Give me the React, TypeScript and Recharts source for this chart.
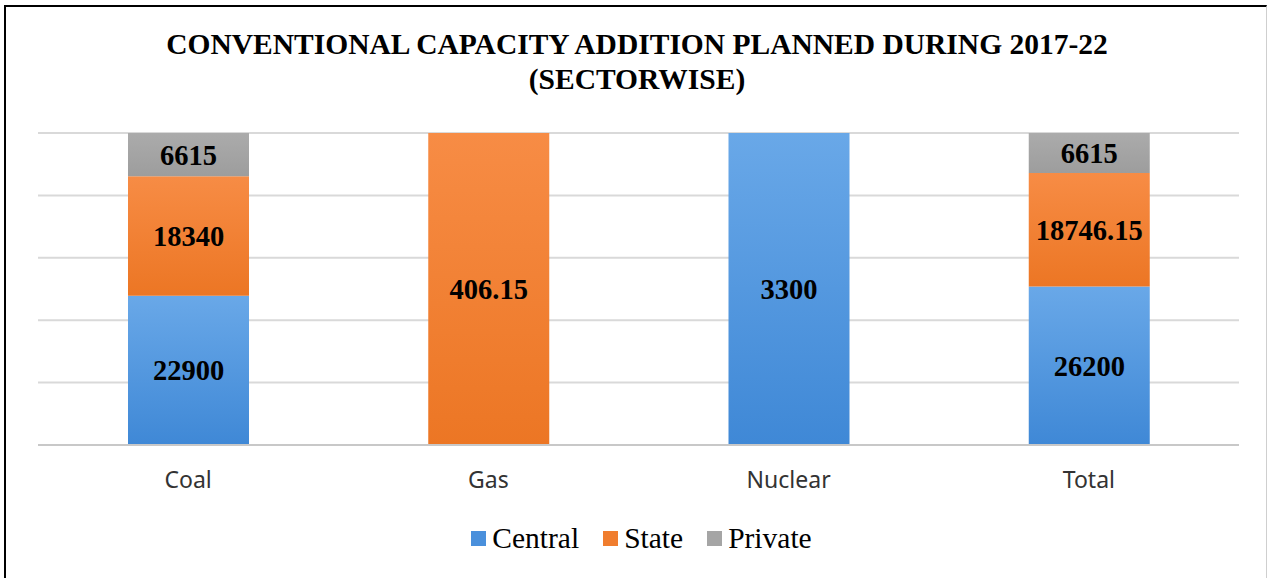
import { BarChart, Bar, XAxis, YAxis, CartesianGrid, Legend, LabelList } from 'recharts';

// Conventional capacity addition planned during 2017-22, sector-wise (MW).
const categories = ['Coal', 'Gas', 'Nuclear', 'Total'];
const central = [22900, 0, 3300, 26200];
const state = [18340, 406.15, 0, 18746.15];
const privateSector = [6615, 0, 0, 6615];
const gridTicks = [0, 0.2, 0.4, 0.6, 0.8, 1];

const series = [
  { key: 'central', name: 'Central', fill: 'url(#gCentral)', swatch: '#4a90dc' },
  { key: 'state', name: 'State', fill: 'url(#gState)', swatch: '#f07d2e' },
  { key: 'private', name: 'Private', fill: 'url(#gPrivate)', swatch: '#a5a5a5' },
];

const data = categories.map((name, i) => ({
  name,
  central: central[i],
  state: state[i],
  private: privateSector[i],
}));

const SERIF = '"Liberation Serif", "Times New Roman", serif';

const hideZero = (v: any) => (v ? v : '');

function LegendContent() {
  return (
    <div
      style={{
        height: 60,
        display: 'flex',
        justifyContent: 'center',
        alignItems: 'flex-end',
        fontFamily: SERIF,
        fontSize: 29.5,
        color: '#000',
        paddingLeft: 30,
        paddingBottom: 0,
        boxSizing: 'border-box',
        transform: 'translateY(3px)',
      }}
    >
      {series.map((s) => (
        <span key={s.key} style={{ display: 'inline-flex', alignItems: 'center', marginRight: 24, lineHeight: '40px' }}>
          <span style={{ width: 15, height: 15, background: s.swatch, marginRight: 6, display: 'inline-block' }} />
          {s.name}
        </span>
      ))}
    </div>
  );
}

export default function App() {
  return (
    <div style={{ position: 'fixed', left: 0, top: 0, width: 1271, height: 578, background: '#fff', overflow: 'hidden' }}>
      <div
        style={{
          position: 'absolute',
          left: 4,
          top: 5,
          width: 1260,
          height: 620,
          border: '2px solid #000',
          borderRightColor: '#cfcfcf',
          borderRightWidth: 1,
        }}
      />
      <div
        style={{
          position: 'absolute',
          left: 0,
          top: 27,
          width: 1274,
          textAlign: 'center',
          fontFamily: SERIF,
          fontWeight: 'bold',
          fontSize: 29.5,
          lineHeight: '35px',
          color: '#000',
        }}
      >
        CONVENTIONAL CAPACITY ADDITION PLANNED DURING 2017-22
        <br />
        (SECTORWISE)
      </div>
      <div style={{ position: 'absolute', left: 0, top: 0 }}>
        <BarChart
          width={1271}
          height={578}
          data={data}
          stackOffset="expand"
          margin={{ top: 133, right: 32, left: 38, bottom: 23 }}
          barSize={121}
        >
          <defs>
            <linearGradient id="gCentral" x1="0" y1="0" x2="0" y2="1">
              <stop offset="0%" stopColor="#69a8e8" />
              <stop offset="100%" stopColor="#3f88d6" />
            </linearGradient>
            <linearGradient id="gState" x1="0" y1="0" x2="0" y2="1">
              <stop offset="0%" stopColor="#f78c45" />
              <stop offset="100%" stopColor="#ec7624" />
            </linearGradient>
            <linearGradient id="gPrivate" x1="0" y1="0" x2="0" y2="1">
              <stop offset="0%" stopColor="#ababab" />
              <stop offset="100%" stopColor="#9d9d9d" />
            </linearGradient>
          </defs>
          <CartesianGrid vertical={false} stroke="#d9d9d9" strokeWidth={2} />
          <YAxis hide domain={[0, 1]} ticks={gridTicks} />
          <XAxis
            dataKey="name"
            height={50}
            axisLine={{ stroke: '#c8c8c8', strokeWidth: 2 }}
            tickLine={false}
            tickMargin={21}
            tick={{ fontFamily: '"Noto Sans", sans-serif', fontSize: 23, fill: '#333' }}
            interval={0}
          />
          <Legend verticalAlign="bottom" height={60} content={<LegendContent />} />
          {series.map((s) => (
            <Bar key={s.key} dataKey={s.key} name={s.name} stackId="a" fill={s.fill} isAnimationActive={false}>
              <LabelList
                dataKey={s.key}
                position="center"
                formatter={hideZero}
                style={{ fontFamily: SERIF, fontWeight: 'bold', fontSize: 28.5, fill: '#000' }}
              />
            </Bar>
          ))}
        </BarChart>
      </div>
    </div>
  );
}
